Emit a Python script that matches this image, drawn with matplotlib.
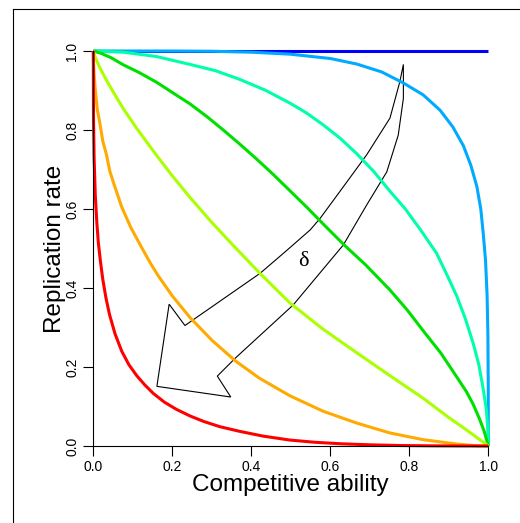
import numpy as np
import matplotlib
matplotlib.use("Agg")
import matplotlib.pyplot as plt
from matplotlib.lines import Line2D
from matplotlib.patches import Polygon

plt.rcParams['font.family'] = ['Liberation Sans', 'DejaVu Sans']

# curves (competitive ability -> replication rate)
red_x = [0, 0.0005, 0.002, 0.005, 0.009, 0.0127, 0.018, 0.024, 0.032, 0.041, 0.055, 0.072,
         0.09, 0.11, 0.13, 0.152, 0.18, 0.21, 0.245, 0.28, 0.32, 0.371, 0.43, 0.498, 0.56,
         0.63, 0.70, 0.78, 0.86, 0.93, 1.0]
red_y = [1.0, 0.83, 0.73, 0.635, 0.565, 0.515, 0.468, 0.422, 0.375, 0.333, 0.284, 0.240,
         0.206, 0.178, 0.155, 0.133, 0.111, 0.093, 0.076, 0.062, 0.049, 0.037, 0.025, 0.015,
         0.0095, 0.0055, 0.003, 0.0012, 0.0004, 0.0001, 0.0]

orange_x = [0, 0.0005, 0.002, 0.005, 0.010, 0.017, 0.024, 0.033, 0.042, 0.055, 0.072, 0.095,
            0.12, 0.145, 0.165, 0.2, 0.245, 0.3, 0.359, 0.42, 0.498, 0.582, 0.667, 0.751,
            0.835, 0.92, 0.97, 1.0]
orange_y = [1.0, 0.972, 0.941, 0.903, 0.853, 0.815, 0.772, 0.739, 0.695, 0.655, 0.605, 0.553,
            0.507, 0.462, 0.430, 0.380, 0.325, 0.268, 0.216, 0.172, 0.127, 0.088, 0.058, 0.033,
            0.016, 0.005, 0.0006, 0.0]

yg_x = [0, 0.005, 0.015, 0.030, 0.05, 0.076, 0.11, 0.16, 0.2, 0.245, 0.3, 0.354, 0.422,
        0.498, 0.58, 0.667, 0.751, 0.835, 0.9, 0.95, 1.0]
yg_y = [1.0, 0.984, 0.961, 0.932, 0.897, 0.854, 0.804, 0.736, 0.684, 0.629, 0.566, 0.508,
        0.437, 0.362, 0.297, 0.236, 0.178, 0.121, 0.072, 0.037, 0.0]

green_x = [0, 0.02, 0.045, 0.076, 0.115, 0.160, 0.2, 0.245, 0.29, 0.329, 0.37, 0.414, 0.455,
           0.498, 0.54, 0.582, 0.633, 0.69, 0.751, 0.795, 0.835, 0.88, 0.920, 0.945, 0.962,
           0.978, 0.99, 1.0]
green_y = [1.0, 0.994, 0.983, 0.965, 0.946, 0.921, 0.895, 0.866, 0.832, 0.800, 0.765, 0.726,
           0.688, 0.646, 0.605, 0.562, 0.511, 0.458, 0.395, 0.344, 0.292, 0.235, 0.175, 0.137,
           0.105, 0.068, 0.036, 0.0]

aqua_x = [0, 0.076, 0.16, 0.245, 0.31, 0.371, 0.435, 0.498, 0.54, 0.582, 0.625, 0.667, 0.71,
          0.751, 0.79, 0.83, 0.869, 0.895, 0.920, 0.942, 0.962, 0.976, 0.987, 0.995, 0.999, 1.0]
aqua_y = [1.0, 0.997, 0.986, 0.966, 0.950, 0.928, 0.901, 0.868, 0.843, 0.813, 0.779, 0.740,
          0.695, 0.645, 0.600, 0.545, 0.488, 0.434, 0.380, 0.322, 0.259, 0.206, 0.145, 0.093,
          0.041, 0.0]

lblue_x = [0, 0.2, 0.3, 0.4, 0.498, 0.6, 0.667, 0.73, 0.785, 0.835, 0.878, 0.91, 0.937, 0.956,
           0.971, 0.981, 0.987, 0.993, 0.997, 0.999, 0.9999, 1.0]
lblue_y = [1.0, 0.9999, 0.9993, 0.997, 0.992, 0.981, 0.967, 0.947, 0.919, 0.889, 0.850, 0.808,
           0.760, 0.710, 0.657, 0.600, 0.54, 0.47, 0.38, 0.28, 0.15, 0.0]

blue_x = [0, 1.0]
blue_y = [1.0, 1.0]

curves = [(blue_x, blue_y, '#0000FF'), (lblue_x, lblue_y, '#00AAFF'),
          (aqua_x, aqua_y, '#00FFAA'), (green_x, green_y, '#00E000'),
          (yg_x, yg_y, '#AAFF00'), (orange_x, orange_y, '#FFAA00'),
          (red_x, red_y, '#FF0000')]

# outline of the curved arrow (data units), tail tip -> left edge -> head -> right edge
arrow_x = [0.785, 0.776, 0.751, 0.692, 0.624, 0.574, 0.549, 0.485, 0.422, 0.232, 0.192,
           0.161, 0.348, 0.314, 0.359, 0.506, 0.633, 0.692, 0.743, 0.772, 0.785]
arrow_y = [0.966, 0.922, 0.830, 0.737, 0.644, 0.576, 0.547, 0.491, 0.437, 0.305, 0.359,
           0.151, 0.124, 0.177, 0.222, 0.357, 0.509, 0.610, 0.694, 0.787, 0.880]

ticks = [0.0, 0.2, 0.4, 0.6, 0.8, 1.0]
tick_labels = ['0.0', '0.2', '0.4', '0.6', '0.8', '1.0']

W, H = 520, 523
fig = plt.figure(figsize=(W / 100, H / 100), dpi=100)
ax = fig.add_axes([93.3 / W, 77 / H, 395 / W, 395 / H])

for cx, cy, col in curves:
    ax.plot(cx, cy, color=col, lw=2.2, clip_on=False, solid_capstyle='butt',
            solid_joinstyle='round')

ax.add_patch(Polygon(np.column_stack([arrow_x, arrow_y]), closed=True, fill=False,
                     edgecolor='black', lw=0.8, joinstyle='miter'))
ax.text(0.532, 0.467, 'δ', fontsize=16, family=['Liberation Serif', 'DejaVu Serif'],
        ha='center', va='center')

ax.set_xlim(0, 1)
ax.set_ylim(0, 1)
for s in ['top', 'right']:
    ax.spines[s].set_visible(False)
for s in ['left', 'bottom']:
    ax.spines[s].set_linewidth(0.8)
ax.set_xticks(ticks)
ax.set_xticklabels(tick_labels)
ax.set_yticks(ticks)
ax.set_yticklabels(tick_labels, rotation=90, va='center')
ax.tick_params(length=7.2, width=0.8, labelsize=10, pad=3)

fig.text(290.8 / W, (H - 491) / H, 'Competitive ability', fontsize=17.5,
         ha='center', va='baseline')
fig.text(61.5 / W, (H - 248.5) / H, 'Replication rate', fontsize=17.5, rotation=90,
         rotation_mode='anchor', ha='center', va='baseline')

# frame of the original page
fig.add_artist(Line2D([12.5 / W, 12.5 / W], [0, (H - 9) / H], color='black', lw=0.8))
fig.add_artist(Line2D([12.5 / W, 1], [(H - 9) / H, (H - 9) / H], color='black', lw=0.8))

fig.savefig('out.png', dpi=100)
